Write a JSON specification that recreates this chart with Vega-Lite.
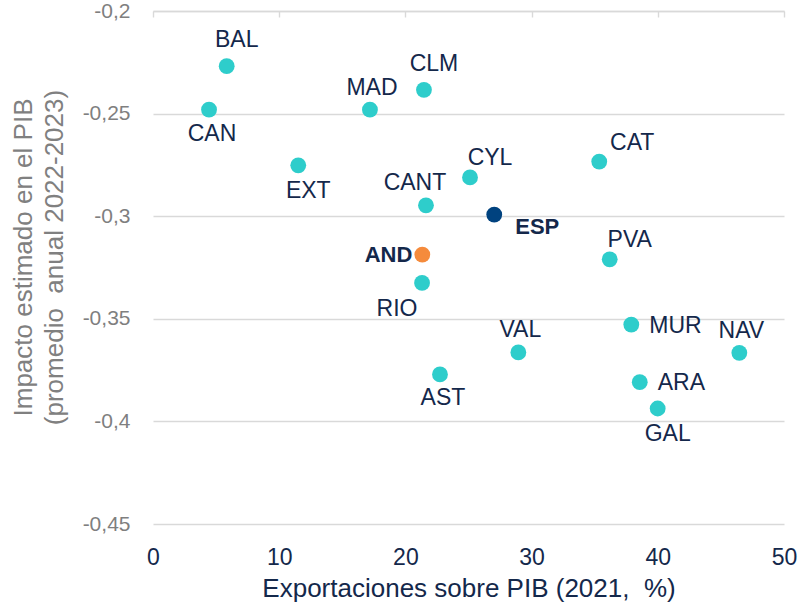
{
  "$schema": "https://vega.github.io/schema/vega-lite/v6.json",
  "width": 631,
  "height": 513,
  "autosize": "none",
  "padding": {"left": 153, "top": 11, "right": 17, "bottom": 80},
  "config": {"view": {"stroke": null}, "font": "Liberation Sans"},
  "data": {
    "values": [
      {"r": "BAL", "exp": 5.84, "imp": -0.2269, "g": "CCAA"},
      {"r": "CAN", "exp": 4.44, "imp": -0.2481, "g": "CCAA"},
      {"r": "MAD", "exp": 17.19, "imp": -0.2481, "g": "CCAA"},
      {"r": "CLM", "exp": 21.47, "imp": -0.2384, "g": "CCAA"},
      {"r": "EXT", "exp": 11.51, "imp": -0.2752, "g": "CCAA"},
      {"r": "CYL", "exp": 25.12, "imp": -0.2811, "g": "CCAA"},
      {"r": "CAT", "exp": 35.36, "imp": -0.2734, "g": "CCAA"},
      {"r": "CANT", "exp": 21.63, "imp": -0.2947, "g": "CCAA"},
      {"r": "ESP", "exp": 27.04, "imp": -0.2992, "g": "ESP"},
      {"r": "AND", "exp": 21.34, "imp": -0.3187, "g": "AND"},
      {"r": "PVA", "exp": 36.19, "imp": -0.321, "g": "CCAA"},
      {"r": "RIO", "exp": 21.32, "imp": -0.3325, "g": "CCAA"},
      {"r": "MUR", "exp": 37.9, "imp": -0.3528, "g": "CCAA"},
      {"r": "NAV", "exp": 46.46, "imp": -0.3666, "g": "CCAA"},
      {"r": "VAL", "exp": 28.95, "imp": -0.3664, "g": "CCAA"},
      {"r": "AST", "exp": 22.74, "imp": -0.3771, "g": "CCAA"},
      {"r": "ARA", "exp": 38.57, "imp": -0.3809, "g": "CCAA"},
      {"r": "GAL", "exp": 39.99, "imp": -0.3937, "g": "CCAA"}
    ]
  },
  "encoding": {
    "y": {
      "field": "imp", "type": "quantitative",
      "scale": {"domain": [-0.45, -0.2], "nice": false, "zero": false},
      "axis": {
        "values": [-0.45, -0.4, -0.35, -0.3, -0.25, -0.2],
        "labelExpr": "replace(replace(format(datum.value, '.2~f'), '\u2212', '-'), '.', ',')",
        "domain": false, "ticks": false, "grid": true, "labelFlush": false,
        "gridColor": "#D9D9D9", "gridWidth": 1.4,
        "labelFontSize": 21, "labelColor": "#7F7F7F", "labelPadding": 23,
        "title": ["Impacto estimado en el PIB", "(promedio\u00a0 anual 2022-2023)"],
        "titleFontSize": 26, "titleFontWeight": "normal", "titleColor": "#808080",
        "titleLineHeight": 31, "titlePadding": 15, "titleY": 246
      }
    }
  },
  "resolve": {"axis": {"x": "independent"}},
  "layer": [
    {
      "encoding": {
        "x": {
          "field": "exp", "type": "quantitative",
          "scale": {"domain": [0, 50], "nice": false, "zero": false},
          "axis": {
            "orient": "bottom", "values": [0, 10, 20, 30, 40, 50],
            "domain": false, "ticks": false, "grid": false, "labelFlush": false,
            "labelFontSize": 23, "labelColor": "#14284B", "labelPadding": 22,
            "title": "Exportaciones sobre PIB (2021,\u00a0 %)",
            "titleFontSize": 26, "titleFontWeight": "normal", "titleColor": "#14284B", "titlePadding": 6
          }
        }
      },
      "layer": [
        {
          "mark": {"type": "circle", "size": 250, "opacity": 1},
          "encoding": {
            "color": {
              "field": "g", "type": "nominal", "legend": null,
              "scale": {"domain": ["CCAA", "ESP", "AND"], "range": ["#2ECDCB", "#00427F", "#F58B3C"]}
            }
          }
        },
        {
          "transform": [{"filter": {"field": "r", "oneOf": ["MAD", "NAV", "VAL"]}}],
          "mark": {"type": "text", "fontSize": 23, "color": "#14284B", "align": "center", "baseline": "middle", "dx": 2, "dy": -22},
          "encoding": {"text": {"field": "r"}}
        },
        {
          "transform": [{"filter": {"field": "r", "oneOf": ["BAL", "CLM"]}}],
          "mark": {"type": "text", "fontSize": 23, "color": "#14284B", "align": "center", "baseline": "middle", "dx": 10, "dy": -26},
          "encoding": {"text": {"field": "r"}}
        },
        {
          "transform": [{"filter": {"field": "r", "oneOf": ["CYL", "PVA"]}}],
          "mark": {"type": "text", "fontSize": 23, "color": "#14284B", "align": "center", "baseline": "middle", "dx": 20, "dy": -19},
          "encoding": {"text": {"field": "r"}}
        },
        {
          "transform": [{"filter": {"field": "r", "oneOf": ["CAT"]}}],
          "mark": {"type": "text", "fontSize": 23, "color": "#14284B", "align": "center", "baseline": "middle", "dx": 33, "dy": -19},
          "encoding": {"text": {"field": "r"}}
        },
        {
          "transform": [{"filter": {"field": "r", "oneOf": ["CAN", "AST"]}}],
          "mark": {"type": "text", "fontSize": 23, "color": "#14284B", "align": "center", "baseline": "middle", "dx": 3, "dy": 24},
          "encoding": {"text": {"field": "r"}}
        },
        {
          "transform": [{"filter": {"field": "r", "oneOf": ["GAL", "EXT"]}}],
          "mark": {"type": "text", "fontSize": 23, "color": "#14284B", "align": "center", "baseline": "middle", "dx": 10, "dy": 26},
          "encoding": {"text": {"field": "r"}}
        },
        {
          "transform": [{"filter": {"field": "r", "oneOf": ["CANT"]}}],
          "mark": {"type": "text", "fontSize": 23, "color": "#14284B", "align": "center", "baseline": "middle", "dx": -11, "dy": -22},
          "encoding": {"text": {"field": "r"}}
        },
        {
          "transform": [{"filter": {"field": "r", "oneOf": ["RIO"]}}],
          "mark": {"type": "text", "fontSize": 23, "color": "#14284B", "align": "center", "baseline": "middle", "dx": -25, "dy": 26},
          "encoding": {"text": {"field": "r"}}
        },
        {
          "transform": [{"filter": {"field": "r", "oneOf": ["MUR", "ARA"]}}],
          "mark": {"type": "text", "fontSize": 23, "color": "#14284B", "align": "left", "baseline": "middle", "dx": 18, "dy": 1},
          "encoding": {"text": {"field": "r"}}
        },
        {
          "transform": [{"filter": {"field": "r", "oneOf": ["ESP"]}}],
          "mark": {"type": "text", "fontSize": 22, "fontWeight": "bold", "color": "#14284B", "align": "left", "baseline": "middle", "dx": 21, "dy": 12},
          "encoding": {"text": {"field": "r"}}
        },
        {
          "transform": [{"filter": {"field": "r", "oneOf": ["AND"]}}],
          "mark": {"type": "text", "fontSize": 22, "fontWeight": "bold", "color": "#14284B", "align": "right", "baseline": "middle", "dx": -10, "dy": 0},
          "encoding": {"text": {"field": "r"}}
        }
      ]
    },
    {
      "mark": {"type": "point", "opacity": 0},
      "encoding": {
        "x": {
          "field": "exp", "type": "quantitative",
          "scale": {"domain": [0, 50], "nice": false, "zero": false},
          "axis": {
            "orient": "top", "values": [0, 10, 20, 30, 40, 50],
            "labels": false, "title": null, "grid": false,
            "domain": true, "domainColor": "#D9D9D9", "domainWidth": 1.4,
            "ticks": true, "tickColor": "#D9D9D9", "tickWidth": 1.4, "tickSize": -6
          }
        }
      }
    }
  ]
}
